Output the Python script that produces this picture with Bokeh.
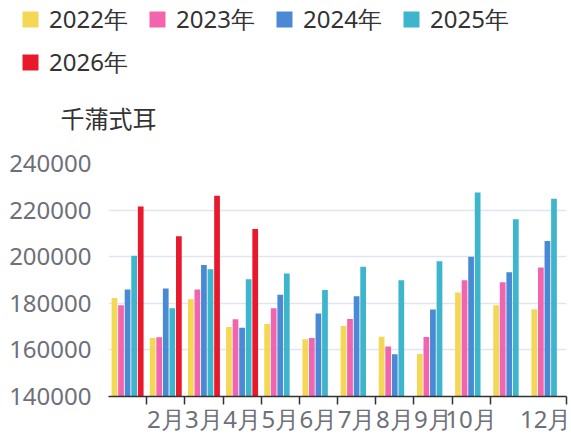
from bokeh.plotting import figure
from bokeh.layouts import column
from bokeh.models import (Range1d, FixedTicker, Legend, LegendItem, Label,
                          ColumnDataSource, BasicTickFormatter)
from bokeh.transform import dodge
from bokeh.embed import file_html
from bokeh.resources import INLINE

months = ["1月", "2月", "3月", "4月", "5月", "6月", "7月", "8月", "9月", "10月", "11月", "12月"]
shown_labels = ["", "2月", "3月", "4月", "5月", "6月", "7月", "8月", "9月", "10月", "", "12月"]
series_names = ["2022年", "2023年", "2024年", "2025年", "2026年"]
nan = float("nan")
v2022 = [182300, 165100, 181700, 169800, 171100, 164600, 170300, 165600, 158200, 184600, 179200, 177500]
v2023 = [179200, 165400, 185900, 173200, 177900, 165100, 173300, 161500, 165500, 189900, 189000, 195400]
v2024 = [185900, 186300, 196400, 169500, 183700, 175600, 183000, 158100, 177300, 200000, 193300, 206700]
v2025 = [200400, 177900, 194600, 190300, 192800, 185700, 195700, 189900, 198000, 227600, 216100, 224900]
v2026 = [221500, 208800, 226200, 211900, nan, nan, nan, nan, nan, nan, nan, nan]
y_ticks = [140000, 160000, 180000, 200000, 220000, 240000]
colors = ["#F4D755", "#F364AE", "#4A89D4", "#3DB5CD", "#E8192C"]
unit_name = "千蒲式耳"

series = [v2022, v2023, v2024, v2025, v2026]
idx = list(range(len(months)))
data = {"x": [i + 0.5 for i in idx]}
for name, vals in zip(series_names, series):
    data[name] = vals
src = ColumnDataSource(data)

W = 571
TOP_H = 140

# ---- header: legend + unit name ----
head = figure(width=W, height=TOP_H, x_range=Range1d(0, W), y_range=Range1d(TOP_H, 0),
              x_axis_type=None, y_axis_type=None, output_backend="svg", toolbar_location=None,
              min_border_left=0, min_border_right=0, min_border_top=0, min_border_bottom=0)
head.frame_align = False
head.outline_line_color = None
head.xgrid.visible = False
head.ygrid.visible = False
# legend proxies: same data, they fall outside the header's visible range
proxies = []
for name, col in zip(series_names, colors):
    proxies.append(head.vbar(x="x", top=name, bottom=140000, width=0.15, source=src,
                             fill_color=col, line_color=None))
legend = Legend(items=[LegendItem(label=n, renderers=[r]) for n, r in zip(series_names, proxies)],
                orientation="horizontal", ncols=4, location=(20, 61),
                glyph_width=20, glyph_height=20, label_standoff=9, label_width=89,
                spacing=9, padding=0, margin=0,
                label_text_font="Noto Sans", label_text_font_size="24px",
                label_text_color="#333333",
                border_line_color=None, background_fill_alpha=0)
head.add_layout(legend, "center")
head.add_layout(Label(x=108, y=117, text=unit_name, text_align="center", text_baseline="middle",
                      text_font="Noto Sans CJK SC", text_font_size="24px", text_color="#333333"))

# ---- main chart ----
p = figure(width=W, height=437 - TOP_H, x_range=Range1d(0, 12), y_range=Range1d(140000, 240000),
           output_backend="svg", toolbar_location=None,
           min_border_left=108, min_border_right=5, min_border_top=23, min_border_bottom=40)
p.frame_align = False
p.outline_line_color = None
p.xgrid.grid_line_color = None
p.ygrid.grid_line_color = "#E0E6F1"
p.ygrid.grid_line_width = 1.5

pitch = 0.172
for k, (name, col) in enumerate(zip(series_names, colors)):
    p.vbar(x=dodge("x", (k - 2) * pitch, range=p.x_range), top=name, bottom=140000,
           width=0.15, source=src, fill_color=col, line_color=None)

# y axis
p.yaxis.ticker = FixedTicker(ticks=y_ticks)
p.yaxis.formatter = BasicTickFormatter(use_scientific=False)
p.yaxis.axis_line_color = None
p.yaxis.major_tick_line_color = None
p.yaxis.minor_tick_line_color = None
p.yaxis.major_tick_out = 0
p.yaxis.major_tick_in = 0
p.yaxis.major_label_standoff = 17
p.yaxis.major_label_text_font = "Noto Sans"
p.yaxis.major_label_text_font_size = "24px"
p.yaxis.major_label_text_color = "#6E7079"

# x axis
label_pos = [i + 0.5 for i in idx if shown_labels[i]]
p.xaxis.ticker = FixedTicker(ticks=label_pos, minor_ticks=[1, 2, 3, 4, 5, 6, 7, 8, 9, 10, 12])
p.xaxis.major_label_overrides = {i + 0.5: shown_labels[i] for i in idx if shown_labels[i]}
p.xaxis.axis_line_color = "#333333"
p.xaxis.axis_line_width = 1.5
p.xaxis.major_tick_out = 0
p.xaxis.major_tick_in = 0
p.xaxis.major_tick_line_color = None
p.xaxis.minor_tick_out = 8
p.xaxis.minor_tick_in = 0
p.xaxis.minor_tick_line_color = "#333333"
p.xaxis.minor_tick_line_width = 1.5
p.xaxis.major_label_standoff = -3
p.xaxis.major_label_text_line_height = 1.0
p.xaxis.major_label_text_font = "Noto Sans"
p.xaxis.major_label_text_font_size = "24px"
p.xaxis.major_label_text_color = "#6E7079"

layout = column(head, p, spacing=0)
open("out.html", "w").write(file_html(layout, INLINE))
